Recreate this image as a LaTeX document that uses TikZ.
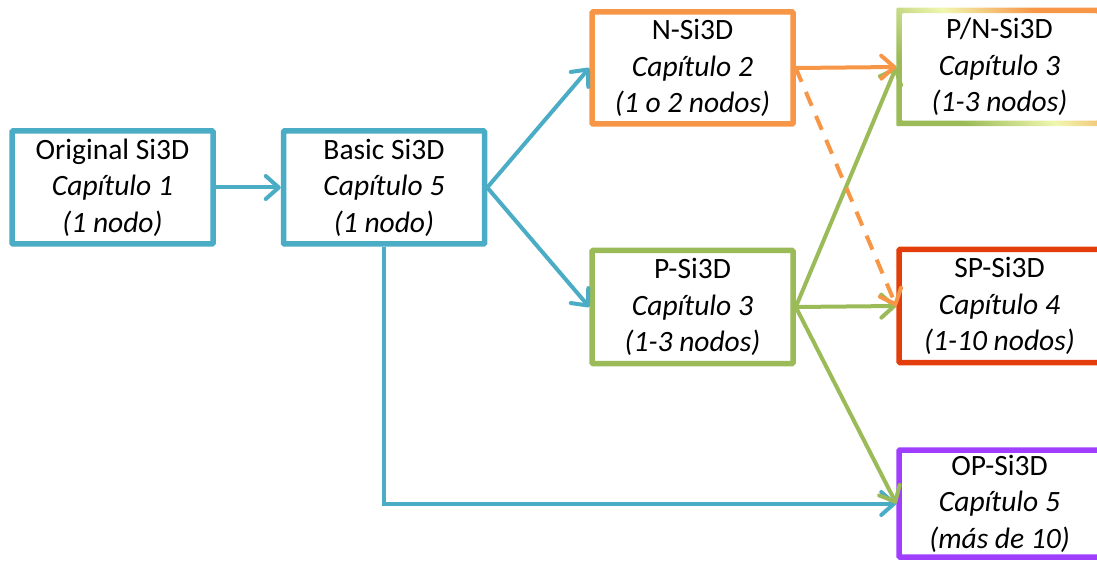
\documentclass[tikz,border=0pt]{standalone}
\usepackage{fontspec}
\setmainfont{Carlito}
\usetikzlibrary{arrows.meta,calc}

\definecolor{siblue}{RGB}{75,172,198}
\definecolor{siorange}{RGB}{247,150,70}
\definecolor{sigreen}{RGB}{155,187,89}
\definecolor{sired}{RGB}{226,61,10}
\definecolor{sipurple}{RGB}{160,62,255}
\definecolor{sipale}{RGB}{240,247,176}

\pgfdeclarehorizontalshading{pnframe}{100bp}{%
  color(0bp)=(sigreen); color(30bp)=(sigreen); color(50bp)=(sipale);
  color(70bp)=(siorange); color(100bp)=(siorange)}

\tikzset{
  stage/.style={rectangle, line width=5.5pt, rounded corners=1pt,
    minimum width=201pt, minimum height=113pt, inner sep=0pt,
    align=center, font=\fontsize{29.5}{36.5}\selectfont, fill=white},
  link/.style={line width=4pt,
    -{Straight Barb[length=13pt,width=23pt,round]}},
}

\begin{document}
\begin{tikzpicture}[x=1pt,y=1pt]
\useasboundingbox (0,0) rectangle (1097,563);

% stages
\node[stage, draw=siblue]   (orig)  at (112.5,375.5) {Original Si3D\\\textit{Capítulo 1}\\\textit{(1 nodo)}};
\node[stage, draw=siblue]   (basic) at (384,375.5)   {Basic Si3D\\\textit{Capítulo 5}\\\textit{(1 nodo)}};
\node[stage, draw=siorange, minimum height=112pt] (nsi) at (692.5,495) {N-Si3D\\\textit{Capítulo 2}\\\textit{(1 o 2 nodos)}};
\node[stage, draw=sigreen]  (psi)   at (692.5,256)   {P-Si3D\\\textit{Capítulo 3}\\\textit{(1-3 nodos)}};
\node[stage, draw=none]     (pnsi)  at (999.5,496)   {P/N-Si3D\\\textit{Capítulo 3}\\\textit{(1-3 nodos)}};
\node[stage, draw=sired]    (spsi)  at (999.5,257)   {SP-Si3D\\\textit{Capítulo 4}\\\textit{(1-10 nodos)}};
\node[stage, draw=sipurple, minimum height=107pt] (opsi) at (999.5,59.5) {OP-Si3D\\\textit{Capítulo 5}\\\textit{(más de 10)}};

% graded frame of the P/N stage
\shade[even odd rule, shading=pnframe, shading angle=45, rounded corners=1pt]
  (pnsi.south west) rectangle (pnsi.north east)
  ($(pnsi.south west)+(5.5,5.5)$) rectangle ($(pnsi.north east)+(-5.5,-5.5)$);

% connectors
\draw[link, siblue] (orig.east) -- (basic.west);
\draw[link, siblue] (basic.east) -- (nsi.west);
\draw[link, siblue] (basic.east) -- (psi.west);
\draw[link, siblue] (basic.south) |- (opsi.west);

\draw[link, sigreen] (psi.east) -- (pnsi.west);
\draw[link, sigreen] (psi.east) -- (spsi.west);
\draw[link, sigreen] (psi.east) -- (opsi.west);

\draw[link, siorange] (nsi.east) -- (pnsi.west);
\draw[link, siorange, dash pattern=on 15pt off 11pt] (nsi.east) -- (spsi.west);
\end{tikzpicture}
\end{document}
